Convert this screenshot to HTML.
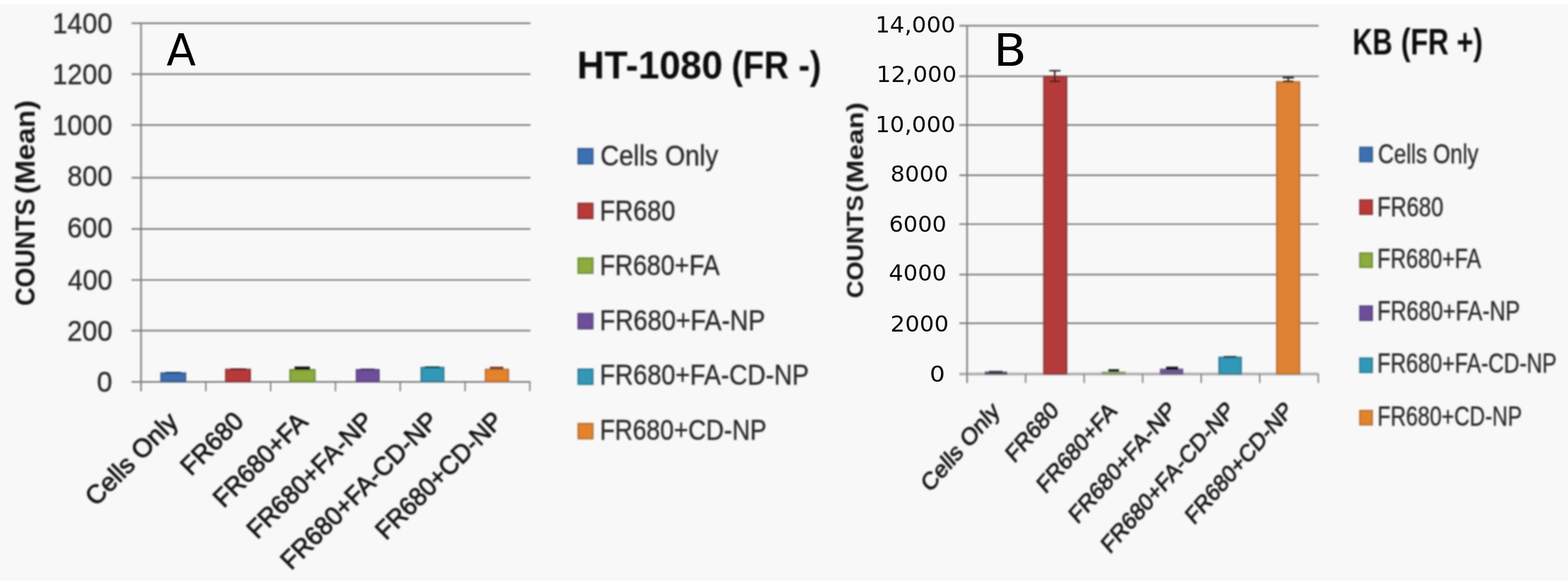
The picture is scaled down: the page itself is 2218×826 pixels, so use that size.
<!DOCTYPE html>
<html lang="en"><head><meta charset="utf-8"><title>Cell uptake charts</title>
<style>html,body{margin:0;padding:0;background:#f8f8f8;overflow:hidden}svg{display:block}</style>
</head><body>
<svg width="2218" height="826" viewBox="0 0 2218 826">
<defs><filter id="bt" x="-2%" y="-2%" width="104%" height="104%"><feGaussianBlur stdDeviation="0.95"/></filter><filter id="bc" x="-2%" y="-2%" width="104%" height="104%"><feGaussianBlur stdDeviation="0.45"/></filter><filter id="bs" x="-2%" y="-2%" width="104%" height="104%"><feGaussianBlur stdDeviation="0.85"/></filter></defs>
<rect x="0" y="0" width="2218" height="826" fill="#f8f8f8"/>
<rect x="0" y="0" width="2218" height="6" fill="#ffffff"/>
<rect x="0" y="821" width="2218" height="5" fill="#ffffff"/>
<g filter="url(#bs)">
<line x1="186.00" y1="32.90" x2="750.30" y2="32.90" stroke="#7a7a7a" stroke-width="2.2"/>
<line x1="186.00" y1="104.80" x2="750.30" y2="104.80" stroke="#7a7a7a" stroke-width="2.2"/>
<line x1="186.00" y1="176.80" x2="750.30" y2="176.80" stroke="#7a7a7a" stroke-width="2.2"/>
<line x1="186.00" y1="251.40" x2="750.30" y2="251.40" stroke="#7a7a7a" stroke-width="2.2"/>
<line x1="186.00" y1="323.80" x2="750.30" y2="323.80" stroke="#7a7a7a" stroke-width="2.2"/>
<line x1="186.00" y1="396.00" x2="750.30" y2="396.00" stroke="#7a7a7a" stroke-width="2.2"/>
<line x1="186.00" y1="467.60" x2="750.30" y2="467.60" stroke="#7a7a7a" stroke-width="2.2"/>
<line x1="186.00" y1="540.20" x2="750.30" y2="540.20" stroke="#7a7a7a" stroke-width="2.2"/>
<line x1="199.50" y1="32.90" x2="199.50" y2="553.50" stroke="#7a7a7a" stroke-width="2.2"/>
<line x1="291.17" y1="540.20" x2="291.17" y2="553.50" stroke="#7a7a7a" stroke-width="1.9"/>
<line x1="382.83" y1="540.20" x2="382.83" y2="553.50" stroke="#7a7a7a" stroke-width="1.9"/>
<line x1="474.50" y1="540.20" x2="474.50" y2="553.50" stroke="#7a7a7a" stroke-width="1.9"/>
<line x1="566.17" y1="540.20" x2="566.17" y2="553.50" stroke="#7a7a7a" stroke-width="1.9"/>
<line x1="657.83" y1="540.20" x2="657.83" y2="553.50" stroke="#7a7a7a" stroke-width="1.9"/>
<line x1="749.50" y1="540.20" x2="749.50" y2="553.50" stroke="#7a7a7a" stroke-width="1.9"/>
<rect x="228.00" y="527.80" width="34.20" height="11.70" fill="#3a70b2" stroke="#3a5f8f" stroke-width="2.4"/>
<rect x="319.50" y="522.70" width="34.30" height="16.80" fill="#ba3838" stroke="#8f3a3a" stroke-width="2.4"/>
<rect x="410.40" y="523.10" width="34.90" height="16.40" fill="#8dac3c" stroke="#73903f" stroke-width="2.4"/>
<rect x="504.40" y="523.10" width="31.50" height="16.40" fill="#6e4e9c" stroke="#5f4a80" stroke-width="2.4"/>
<rect x="596.00" y="520.00" width="31.50" height="19.50" fill="#3098b8" stroke="#357f96" stroke-width="2.4"/>
<rect x="686.90" y="522.70" width="32.10" height="16.80" fill="#e6822a" stroke="#b8733a" stroke-width="2.4"/>
<rect x="416.70" y="518.50" width="21.70" height="4.50" fill="#101010"/>
<rect x="234.00" y="526.00" width="22.00" height="2.00" fill="#1d3a5e"/>
<rect x="326.00" y="521.00" width="22.00" height="2.00" fill="#5e1f1d"/>
<rect x="510.00" y="521.40" width="20.00" height="2.00" fill="#3a2a55"/>
<rect x="601.00" y="518.30" width="21.00" height="2.40" fill="#12404e"/>
<rect x="693.00" y="518.80" width="19.00" height="3.00" fill="#6b2a14"/>
<rect x="818.00" y="210.50" width="20.40" height="21.00" fill="#3a70b2" stroke="#3a5f8f" stroke-width="2.4"/>
<rect x="818.00" y="287.80" width="20.40" height="21.00" fill="#ba3838" stroke="#8f3a3a" stroke-width="2.4"/>
<rect x="818.00" y="365.20" width="20.40" height="21.00" fill="#8dac3c" stroke="#73903f" stroke-width="2.4"/>
<rect x="818.00" y="443.80" width="20.40" height="21.00" fill="#6e4e9c" stroke="#5f4a80" stroke-width="2.4"/>
<rect x="818.00" y="522.30" width="20.40" height="21.00" fill="#3098b8" stroke="#357f96" stroke-width="2.4"/>
<rect x="818.00" y="599.30" width="20.40" height="21.00" fill="#e6822a" stroke="#b8733a" stroke-width="2.4"/>
<line x1="1357.00" y1="36.40" x2="1865.20" y2="36.40" stroke="#7a7a7a" stroke-width="2.2"/>
<line x1="1357.00" y1="107.80" x2="1865.20" y2="107.80" stroke="#7a7a7a" stroke-width="2.2"/>
<line x1="1357.00" y1="176.90" x2="1865.20" y2="176.90" stroke="#7a7a7a" stroke-width="2.2"/>
<line x1="1357.00" y1="247.90" x2="1865.20" y2="247.90" stroke="#7a7a7a" stroke-width="2.2"/>
<line x1="1357.00" y1="317.00" x2="1865.20" y2="317.00" stroke="#7a7a7a" stroke-width="2.2"/>
<line x1="1357.00" y1="388.30" x2="1865.20" y2="388.30" stroke="#7a7a7a" stroke-width="2.2"/>
<line x1="1357.00" y1="457.20" x2="1865.20" y2="457.20" stroke="#7a7a7a" stroke-width="2.2"/>
<line x1="1357.00" y1="528.90" x2="1865.20" y2="528.90" stroke="#b4b4b4" stroke-width="4"/>
<line x1="1368.00" y1="36.40" x2="1368.00" y2="541.70" stroke="#7a7a7a" stroke-width="2.2"/>
<line x1="1450.78" y1="528.90" x2="1450.78" y2="541.70" stroke="#7a7a7a" stroke-width="1.9"/>
<line x1="1533.57" y1="528.90" x2="1533.57" y2="541.70" stroke="#7a7a7a" stroke-width="1.9"/>
<line x1="1616.35" y1="528.90" x2="1616.35" y2="541.70" stroke="#7a7a7a" stroke-width="1.9"/>
<line x1="1699.13" y1="528.90" x2="1699.13" y2="541.70" stroke="#7a7a7a" stroke-width="1.9"/>
<line x1="1781.92" y1="528.90" x2="1781.92" y2="541.70" stroke="#7a7a7a" stroke-width="1.9"/>
<line x1="1864.70" y1="528.90" x2="1864.70" y2="541.70" stroke="#7a7a7a" stroke-width="1.9"/>
<rect x="1392.90" y="525.60" width="31.90" height="4.30" fill="#50566a"/>
<rect x="1476.80" y="108.40" width="31.80" height="420.30" fill="#b53b3b" stroke="#8f3a3a" stroke-width="2.4"/>
<rect x="1558.40" y="525.60" width="33.90" height="4.30" fill="#8a9a6a"/>
<rect x="1640.70" y="521.40" width="33.20" height="8.50" fill="#6a5a8a"/>
<rect x="1724.60" y="505.60" width="30.90" height="23.10" fill="#3098b8" stroke="#357f96" stroke-width="2.4"/>
<rect x="1806.20" y="116.00" width="31.90" height="412.70" fill="#df8230" stroke="#b8733a" stroke-width="2.4"/>
<path d="M1484.3 100H1500.3M1492 100V107" stroke="#2a2222" stroke-width="2.2" fill="none"/>
<path d="M1492 107V115.2M1484.6 115.2H1500" stroke="#5c1212" stroke-width="2.2" fill="none"/>
<path d="M1814.3 109.6H1830.3" stroke="#1c1c1c" stroke-width="2.6" fill="none"/>
<path d="M1822.3 109.6V115M1815 115.2H1829.6" stroke="#4a2410" stroke-width="2.2" fill="none"/>
<rect x="1399.00" y="524.60" width="19.00" height="3.00" fill="#2c2f38"/>
<rect x="1567.90" y="522.30" width="15.00" height="3.60" fill="#151a10"/>
<rect x="1649.50" y="518.70" width="17.00" height="4.20" fill="#100818"/>
<rect x="1731.00" y="503.60" width="18.00" height="2.40" fill="#123a48"/>
<rect x="1923.80" y="208.60" width="17.10" height="19.80" fill="#3a70b2" stroke="#3a5f8f" stroke-width="2.4"/>
<rect x="1923.80" y="283.10" width="17.10" height="19.80" fill="#ba3838" stroke="#8f3a3a" stroke-width="2.4"/>
<rect x="1923.80" y="358.10" width="17.10" height="19.80" fill="#8dac3c" stroke="#73903f" stroke-width="2.4"/>
<rect x="1923.80" y="433.10" width="17.10" height="19.80" fill="#6e4e9c" stroke="#5f4a80" stroke-width="2.4"/>
<rect x="1923.80" y="506.70" width="17.10" height="19.80" fill="#3098b8" stroke="#357f96" stroke-width="2.4"/>
<rect x="1923.80" y="580.90" width="17.10" height="19.80" fill="#e6822a" stroke="#b8733a" stroke-width="2.4"/>
</g>
<g filter="url(#bt)">
<text transform="translate(74.22,46.80) scale(0.9439,1)" font-family='"Liberation Sans", sans-serif' font-size="40.30" fill="#2a2a2a" stroke="#2a2a2a" stroke-width="0.35">1400</text>
<text transform="translate(74.22,119.00) scale(0.9439,1)" font-family='"Liberation Sans", sans-serif' font-size="40.30" fill="#2a2a2a" stroke="#2a2a2a" stroke-width="0.35">1200</text>
<text transform="translate(74.22,191.40) scale(0.9439,1)" font-family='"Liberation Sans", sans-serif' font-size="40.30" fill="#2a2a2a" stroke="#2a2a2a" stroke-width="0.35">1000</text>
<text transform="translate(95.15,263.30) scale(0.9495,1)" font-family='"Liberation Sans", sans-serif' font-size="40.30" fill="#2a2a2a" stroke="#2a2a2a" stroke-width="0.35">800</text>
<text transform="translate(94.96,335.80) scale(0.9525,1)" font-family='"Liberation Sans", sans-serif' font-size="40.30" fill="#2a2a2a" stroke="#2a2a2a" stroke-width="0.35">600</text>
<text transform="translate(96.12,409.70) scale(0.9348,1)" font-family='"Liberation Sans", sans-serif' font-size="40.30" fill="#2a2a2a" stroke="#2a2a2a" stroke-width="0.35">400</text>
<text transform="translate(94.96,482.30) scale(0.9525,1)" font-family='"Liberation Sans", sans-serif' font-size="40.30" fill="#2a2a2a" stroke="#2a2a2a" stroke-width="0.35">200</text>
<text transform="translate(137.10,554.40) scale(0.9745,1)" font-family='"Liberation Sans", sans-serif' font-size="40.30" fill="#2a2a2a" stroke="#2a2a2a" stroke-width="0.35">0</text>
<text transform="translate(49.3,431) rotate(-90) translate(-1.44,0.00) scale(0.9460,1)" font-family='"Liberation Sans", sans-serif' font-size="38.00" fill="#151515" font-weight="bold">COUNTS</text>
<text transform="translate(49.3,272.4) rotate(-90) translate(-2.06,0.00) scale(1.0838,1)" font-family='"Liberation Sans", sans-serif' font-size="38.00" fill="#151515" font-weight="bold">(Mean)</text>
<text transform="translate(254.33,598.40) rotate(-45) translate(-168.14,0) scale(1.0001,1)" font-family='"Liberation Sans", sans-serif' font-size="36.80" fill="#181818" stroke="#181818" stroke-width="1.0">Cells Only</text>
<text transform="translate(346.00,598.40) rotate(-45) translate(-107.18,0) scale(0.9777,1)" font-family='"Liberation Sans", sans-serif' font-size="36.80" fill="#181818" stroke="#181818" stroke-width="1.0">FR680</text>
<text transform="translate(437.67,598.40) rotate(-45) translate(-171.24,0) scale(0.9656,1)" font-family='"Liberation Sans", sans-serif' font-size="36.80" fill="#181818" stroke="#181818" stroke-width="1.0">FR680+FA</text>
<text transform="translate(529.33,598.40) rotate(-45) translate(-233.98,0) scale(0.9791,1)" font-family='"Liberation Sans", sans-serif' font-size="36.80" fill="#181818" stroke="#181818" stroke-width="1.0">FR680+FA-NP</text>
<text transform="translate(621.00,598.40) rotate(-45) translate(-295.86,0) scale(0.9723,1)" font-family='"Liberation Sans", sans-serif' font-size="36.80" fill="#181818" stroke="#181818" stroke-width="1.0">FR680+FA-CD-NP</text>
<text transform="translate(712.67,598.40) rotate(-45) translate(-235.61,0) scale(0.9535,1)" font-family='"Liberation Sans", sans-serif' font-size="36.80" fill="#181818" stroke="#181818" stroke-width="1.0">FR680+CD-NP</text>
<text transform="translate(816.31,111.20) scale(0.9624,1)" font-family='"Liberation Sans", sans-serif' font-size="55.80" fill="#101010" font-weight="bold">HT-1080</text>
<text transform="translate(1034.87,111.20) scale(0.8718,1)" font-family='"Liberation Sans", sans-serif' font-size="55.80" fill="#101010" font-weight="bold">(FR -)</text>
<text transform="translate(849.37,234.40) scale(0.9027,1)" font-family='"Liberation Sans", sans-serif' font-size="40.50" fill="#2a2a2a" stroke="#2a2a2a" stroke-width="0.4">Cells Only</text>
<text transform="translate(848.35,311.80) scale(0.8578,1)" font-family='"Liberation Sans", sans-serif' font-size="41.50" fill="#2a2a2a" stroke="#2a2a2a" stroke-width="0.4">FR680</text>
<text transform="translate(848.38,389.30) scale(0.8506,1)" font-family='"Liberation Sans", sans-serif' font-size="41.50" fill="#2a2a2a" stroke="#2a2a2a" stroke-width="0.4">FR680+FA</text>
<text transform="translate(848.33,466.60) scale(0.8641,1)" font-family='"Liberation Sans", sans-serif' font-size="41.50" fill="#2a2a2a" stroke="#2a2a2a" stroke-width="0.4">FR680+FA-NP</text>
<text transform="translate(848.35,543.70) scale(0.8589,1)" font-family='"Liberation Sans", sans-serif' font-size="41.50" fill="#2a2a2a" stroke="#2a2a2a" stroke-width="0.4">FR680+FA-CD-NP</text>
<text transform="translate(848.41,621.60) scale(0.8416,1)" font-family='"Liberation Sans", sans-serif' font-size="41.50" fill="#2a2a2a" stroke="#2a2a2a" stroke-width="0.4">FR680+CD-NP</text>
<text transform="translate(1220.9,420.3) rotate(-90) translate(-1.38,0.00) scale(1.0590,1)" font-family='"Liberation Sans", sans-serif' font-size="32.60" fill="#151515" font-weight="bold">COUNTS</text>
<text transform="translate(1220.9,270.5) rotate(-90) translate(-1.98,0.00) scale(1.2162,1)" font-family='"Liberation Sans", sans-serif' font-size="32.60" fill="#151515" font-weight="bold">(Mean)</text>
<text transform="translate(1415.99,583.00) scale(0.8790,1) rotate(-45) translate(-161.90,0) scale(1.0271,1)" font-family='"Liberation Sans", sans-serif' font-size="34.50" fill="#181818" stroke="#181818" stroke-width="1.0">Cells Only</text>
<text transform="translate(1498.77,583.00) scale(0.8790,1) rotate(-45) translate(-103.19,0) scale(1.0039,1)" font-family='"Liberation Sans", sans-serif' font-size="34.50" fill="#181818" stroke="#181818" stroke-width="1.0">FR680</text>
<text transform="translate(1581.56,583.00) scale(0.8790,1) rotate(-45) translate(-164.89,0) scale(0.9916,1)" font-family='"Liberation Sans", sans-serif' font-size="34.50" fill="#181818" stroke="#181818" stroke-width="1.0">FR680+FA</text>
<text transform="translate(1664.34,583.00) scale(0.8790,1) rotate(-45) translate(-225.31,0) scale(1.0056,1)" font-family='"Liberation Sans", sans-serif' font-size="34.50" fill="#181818" stroke="#181818" stroke-width="1.0">FR680+FA-NP</text>
<text transform="translate(1747.12,583.00) scale(0.8790,1) rotate(-45) translate(-284.90,0) scale(0.9986,1)" font-family='"Liberation Sans", sans-serif' font-size="34.50" fill="#181818" stroke="#181818" stroke-width="1.0">FR680+FA-CD-NP</text>
<text transform="translate(1829.91,583.00) scale(0.8790,1) rotate(-45) translate(-226.87,0) scale(0.9793,1)" font-family='"Liberation Sans", sans-serif' font-size="34.50" fill="#181818" stroke="#181818" stroke-width="1.0">FR680+CD-NP</text>
<text transform="translate(1913.26,76.90) scale(0.7433,1)" font-family='"Liberation Sans", sans-serif' font-size="52.50" fill="#101010" font-weight="bold">KB</text>
<text transform="translate(1981.67,76.90) scale(0.7722,1)" font-family='"Liberation Sans", sans-serif' font-size="52.50" fill="#101010" font-weight="bold">(FR +)</text>
<text transform="translate(1949.24,231.30) scale(0.8044,1)" font-family='"Liberation Sans", sans-serif' font-size="38.80" fill="#2a2a2a" stroke="#2a2a2a" stroke-width="0.4">Cells Only</text>
<text transform="translate(1948.31,306.10) scale(0.7880,1)" font-family='"Liberation Sans", sans-serif' font-size="39.50" fill="#2a2a2a" stroke="#2a2a2a" stroke-width="0.4">FR680</text>
<text transform="translate(1948.36,379.40) scale(0.7726,1)" font-family='"Liberation Sans", sans-serif' font-size="39.50" fill="#2a2a2a" stroke="#2a2a2a" stroke-width="0.4">FR680+FA</text>
<text transform="translate(1948.33,453.40) scale(0.7824,1)" font-family='"Liberation Sans", sans-serif' font-size="39.50" fill="#2a2a2a" stroke="#2a2a2a" stroke-width="0.4">FR680+FA-NP</text>
<text transform="translate(1948.36,526.90) scale(0.7730,1)" font-family='"Liberation Sans", sans-serif' font-size="39.50" fill="#2a2a2a" stroke="#2a2a2a" stroke-width="0.4">FR680+FA-CD-NP</text>
<text transform="translate(1948.38,601.90) scale(0.7668,1)" font-family='"Liberation Sans", sans-serif' font-size="39.50" fill="#2a2a2a" stroke="#2a2a2a" stroke-width="0.4">FR680+CD-NP</text>
</g>
<g filter="url(#bc)">
<text transform="translate(235.59,92.60) scale(0.9752,1)" font-family='"DejaVu Sans", sans-serif' font-size="62.30" fill="#000">A</text>
<text transform="translate(1238.23,46.00) scale(1.0195,1)" font-family='"DejaVu Sans", sans-serif' font-size="31.80" fill="#0a0a0a">14,000</text>
<text transform="translate(1239.83,116.00) scale(1.0195,1)" font-family='"DejaVu Sans", sans-serif' font-size="31.80" fill="#0a0a0a">12,000</text>
<text transform="translate(1238.23,186.80) scale(1.0195,1)" font-family='"DejaVu Sans", sans-serif' font-size="31.80" fill="#0a0a0a">10,000</text>
<text transform="translate(1259.40,257.30) scale(1.0144,1)" font-family='"DejaVu Sans", sans-serif' font-size="31.80" fill="#0a0a0a">8000</text>
<text transform="translate(1257.46,327.60) scale(1.0073,1)" font-family='"DejaVu Sans", sans-serif' font-size="31.80" fill="#0a0a0a">6000</text>
<text transform="translate(1257.30,396.90) scale(1.0094,1)" font-family='"DejaVu Sans", sans-serif' font-size="31.80" fill="#0a0a0a">4000</text>
<text transform="translate(1259.57,469.20) scale(1.0199,1)" font-family='"DejaVu Sans", sans-serif' font-size="31.80" fill="#0a0a0a">2000</text>
<text transform="translate(1314.97,540.00) scale(1.0773,1)" font-family='"DejaVu Sans", sans-serif' font-size="31.80" fill="#0a0a0a">0</text>
<text transform="translate(1405.60,93.40) scale(1.0874,1)" font-family='"DejaVu Sans", sans-serif' font-size="62.50" fill="#000">B</text>
</g>
</svg>
</body></html>
